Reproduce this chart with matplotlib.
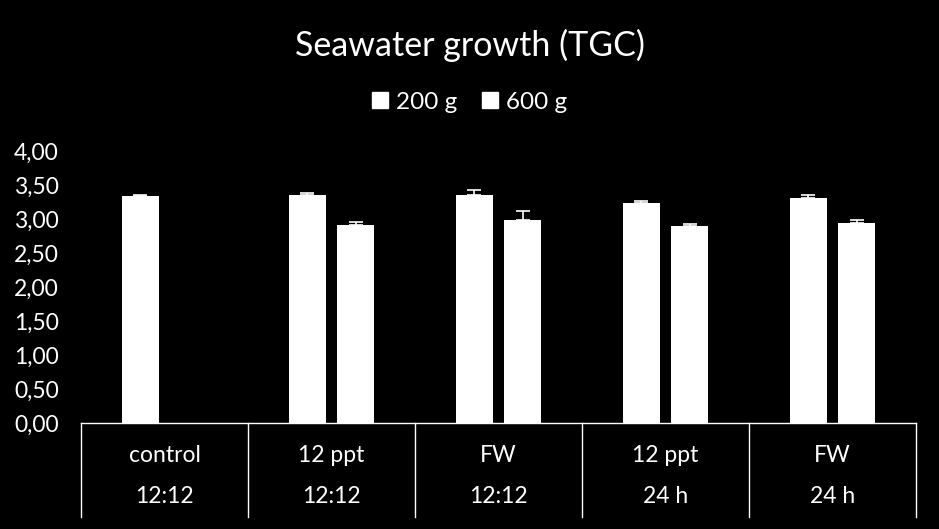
import numpy as np
import matplotlib.pyplot as plt
from matplotlib.patches import Patch
from matplotlib.ticker import FuncFormatter

plt.rcParams['font.family'] = ['Lato', 'DejaVu Sans']

# Data
treatments = ["control", "12 ppt", "FW", "12 ppt", "FW"]
regimes = ["12:12", "12:12", "12:12", "24 h", "24 h"]
tgc_200 = [3.34, 3.35, 3.35, 3.24, 3.31]
err_200 = [0.01, 0.03, 0.07, 0.025, 0.04]
tgc_600 = [np.nan, 2.91, 2.99, 2.90, 2.94]
err_600 = [0, 0.04, 0.13, 0.025, 0.04]

fig = plt.figure(figsize=(9.39, 5.29), dpi=100, facecolor="black")
ax = fig.add_axes([81 / 939, 106 / 529, 835 / 939, 272 / 529], facecolor="black")

x = np.arange(len(treatments))
w = 0.222
off = 0.144
ax.bar(x - off, tgc_200, w, color="white")
ax.bar(x + off, tgc_600, w, color="white")
ax.errorbar(x - off, tgc_200, yerr=[np.zeros(5), err_200], fmt="none",
            ecolor="white", elinewidth=1.2, capsize=5, capthick=1.2)
ax.errorbar(x + off, tgc_600, yerr=[np.zeros(5), err_600], fmt="none",
            ecolor="white", elinewidth=1.2, capsize=5, capthick=1.2)

ax.set_xlim(-0.5, len(treatments) - 0.5)
ax.set_ylim(0, 4)
ax.set_yticks(np.arange(0, 4.01, 0.5))
ax.yaxis.set_major_formatter(FuncFormatter(lambda v, p: f"{v:.2f}".replace(".", ",")))
ax.tick_params(axis="y", colors="white", labelsize=16.5, length=0, pad=16)
ax.set_xticks([])
for s in ax.spines.values():
    s.set_visible(False)

# table under the axis
tr = ax.get_xaxis_transform()
ax.plot([-0.5, len(treatments) - 0.5], [0, 0], color="white", lw=1,
        transform=tr, clip_on=False)
for b in np.arange(-0.5, len(treatments), 1.0):
    ax.plot([b, b], [0, -0.346], color="white", lw=1, transform=tr, clip_on=False)
for i in range(len(treatments)):
    ax.text(x[i], -0.118, treatments[i], color="white", fontsize=16.5,
            ha="center", va="center", transform=tr)
    ax.text(x[i], -0.272, regimes[i], color="white", fontsize=16.5,
            ha="center", va="center", transform=tr)

fig.text(0.5, 1 - 45 / 529, "Seawater growth (TGC)", color="white",
         fontsize=24.5, ha="center", va="center")
handles = [Patch(color="white", label="200 g"), Patch(color="white", label="600 g")]
leg = fig.legend(handles=handles, loc="center", bbox_to_anchor=(0.5, 1 - 102 / 529),
                 ncol=2, frameon=False, fontsize=17.5, handlelength=0.65,
                 handleheight=0.65, handletextpad=0.35, columnspacing=1.0)
for t in leg.get_texts():
    t.set_color("white")

fig.savefig("out.png", dpi=100, facecolor="black")
